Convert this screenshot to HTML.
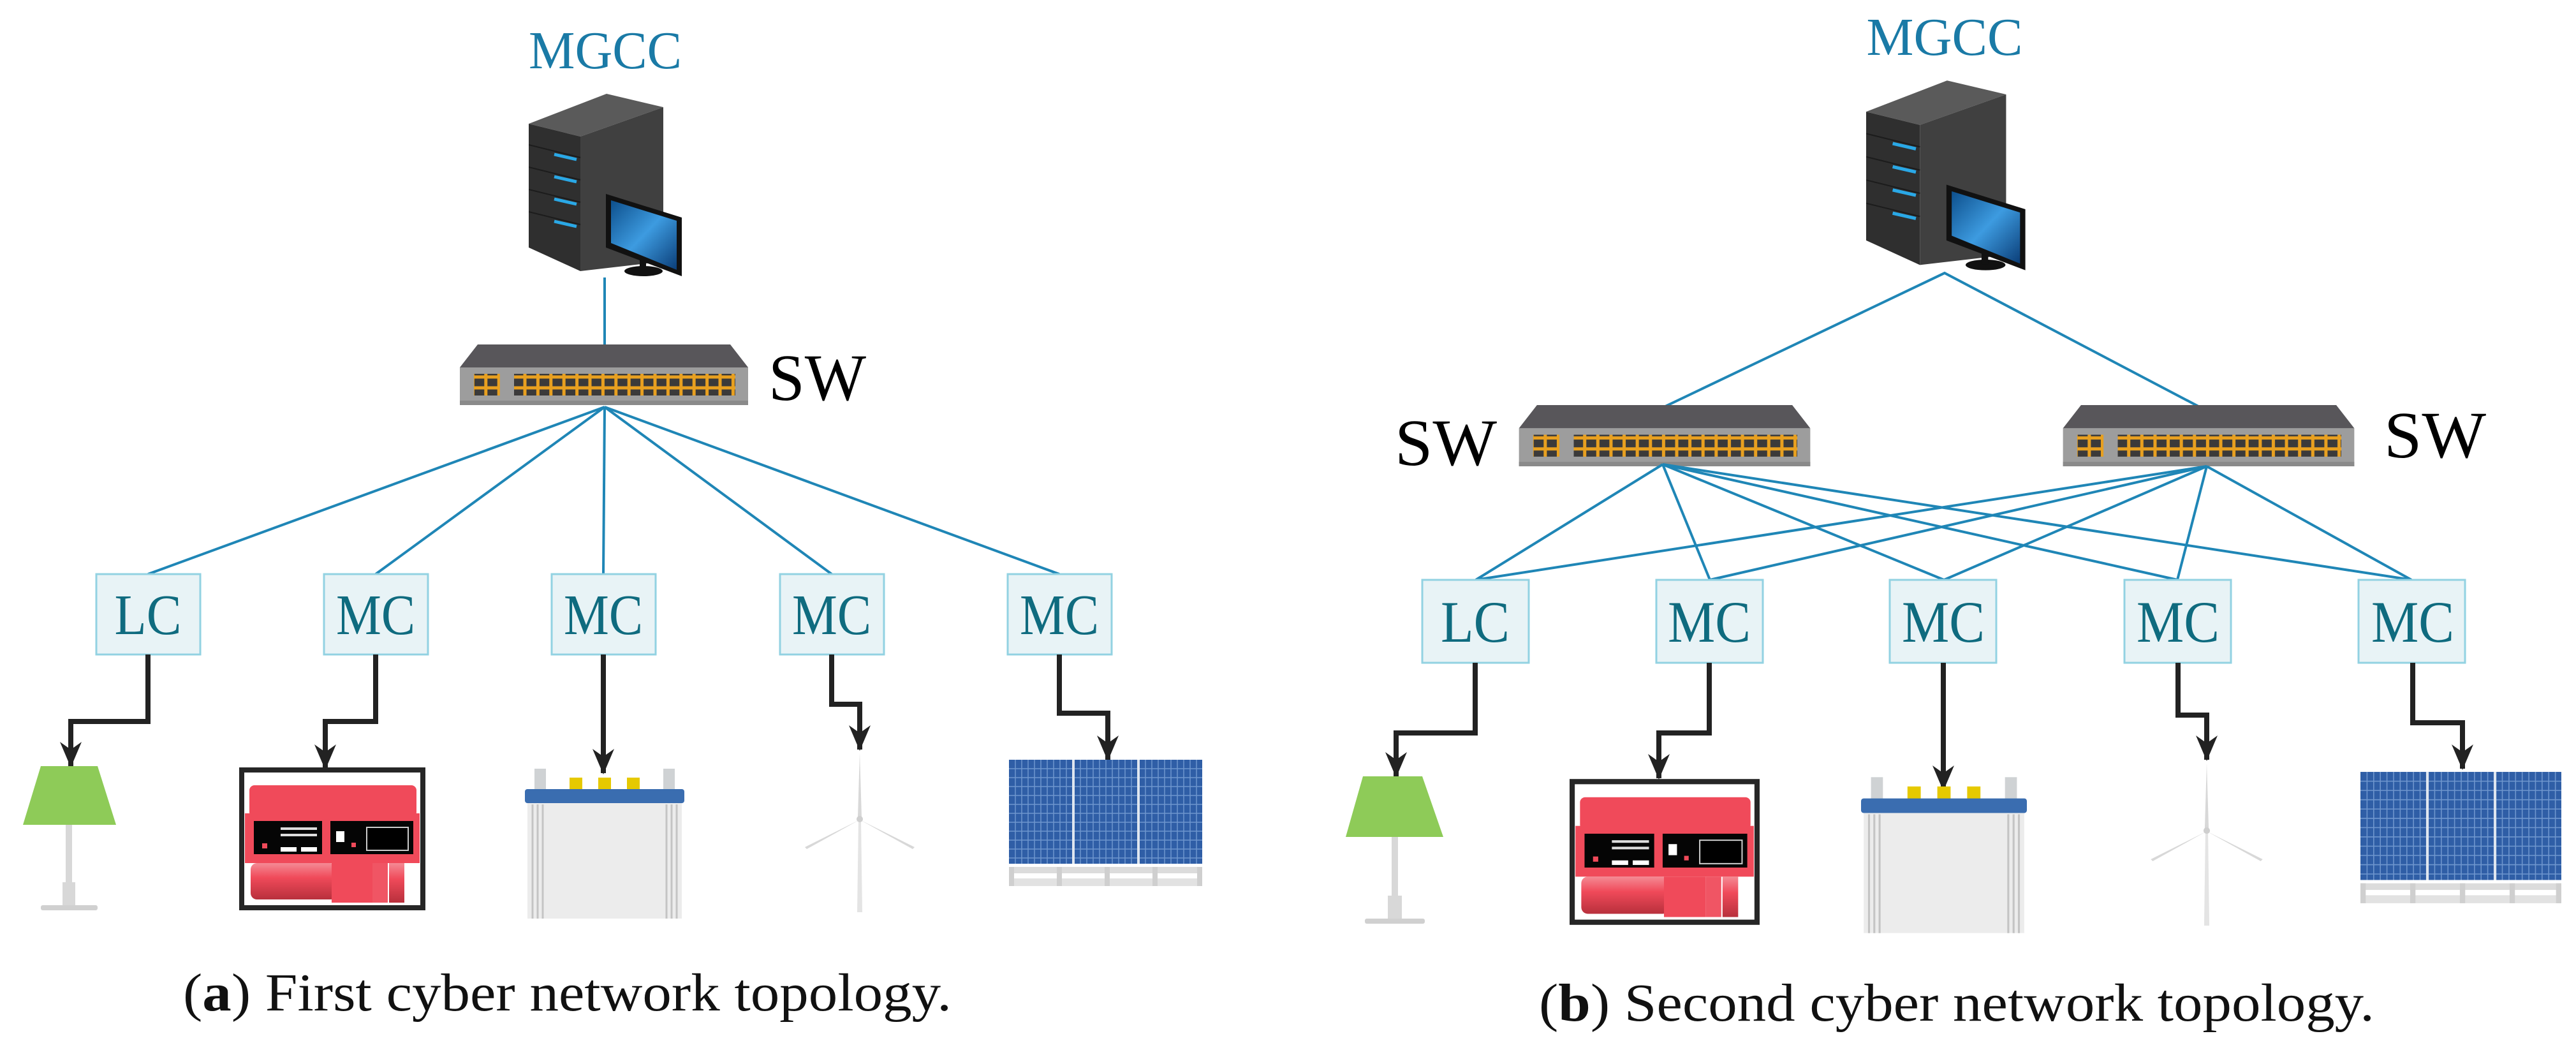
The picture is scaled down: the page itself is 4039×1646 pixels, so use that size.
<!DOCTYPE html>
<html><head><meta charset="utf-8"><style>html,body{margin:0;padding:0;background:#fff}svg{display:block}text{font-family:"Liberation Serif",serif}</style></head>
<body>
<svg width="4039" height="1646" viewBox="0 0 4039 1646" xmlns="http://www.w3.org/2000/svg">
<defs>
<marker id="ah" markerUnits="userSpaceOnUse" markerWidth="40" markerHeight="34" refX="38" refY="17" orient="auto" viewBox="0 0 40 34">
<path d="M0,0 L40,17 L0,34 L12,17 Z" fill="#222"/>
</marker>
<pattern id="ports" patternUnits="userSpaceOnUse" x="0" y="0" width="20.4" height="17">
<rect x="0" y="0" width="20.4" height="17" fill="#e8a020"/>
<rect x="2.5" y="2.5" width="15.4" height="12" fill="#3b3a3a"/>
</pattern>
<linearGradient id="cyl" x1="0" y1="0" x2="0" y2="1"><stop offset="0" stop-color="#f48a94"/><stop offset="0.4" stop-color="#f04a5a"/><stop offset="1" stop-color="#b8303c"/></linearGradient>
<linearGradient id="scr" x1="0" y1="0" x2="1" y2="1"><stop offset="0" stop-color="#0d4f8c"/><stop offset="0.5" stop-color="#3d9be0"/><stop offset="1" stop-color="#0b3e78"/></linearGradient>

<symbol id="server" viewBox="0 0 250 290">
<polygon points="0,47 122,0 211,21 81,67" fill="#5a5a5a"/>
<polygon points="0,47 81,67 81,278 0,241" fill="#2f2f2f"/>
<polygon points="81,67 211,21 211,263 81,278" fill="#404040"/>
<g stroke="#2aa8e6" stroke-width="5">
<line x1="40" y1="95" x2="75" y2="103"/><line x1="40" y1="130" x2="75" y2="138"/>
<line x1="40" y1="165" x2="75" y2="173"/><line x1="40" y1="200" x2="75" y2="208"/>
</g>
<g stroke="#1c1c1c" stroke-width="2">
<line x1="0" y1="80" x2="81" y2="100"/><line x1="0" y1="115" x2="81" y2="135"/><line x1="0" y1="150" x2="81" y2="170"/><line x1="0" y1="185" x2="81" y2="205"/>
</g>
<ellipse cx="180" cy="278" rx="30" ry="8" fill="#111"/>
<rect x="174" y="255" width="10" height="22" fill="#111"/>
<polygon points="121,157 240,194 240,286 121,241" fill="#111"/>
<polygon points="129,167 232,199 232,276 129,234" fill="url(#scr)"/>
</symbol>

<symbol id="switch" viewBox="0 0 452 95">
<polygon points="28,0 424,0 452,36 0,36" fill="#58565a"/>
<rect x="0" y="36" width="452" height="59" fill="#9d9d9d"/>
<rect x="0" y="88" width="452" height="7" fill="#8a8a8a"/>
<rect x="22" y="46" width="40.8" height="34" fill="url(#ports)"/>
<rect x="85" y="46" width="346.8" height="34" fill="url(#ports)"/>
</symbol>

<symbol id="gen" viewBox="0 0 292 224">
<rect x="4" y="4" width="284" height="216" fill="#fff" stroke="#262626" stroke-width="8"/>
<rect x="16" y="28" width="262" height="50" rx="8" fill="#f04a5a"/>
<rect x="9" y="72" width="274" height="78" fill="#f04a5a"/>
<rect x="23" y="84" width="107" height="52" fill="#050505"/>
<rect x="143" y="84" width="130" height="52" fill="#050505"/>
<rect x="36" y="119" width="8" height="8" fill="#f04a5a"/>
<rect x="65" y="125" width="25" height="7" fill="#fff"/><rect x="97" y="125" width="25" height="7" fill="#fff"/>
<rect x="65" y="94" width="57" height="4" fill="#ddd"/><rect x="65" y="104" width="57" height="4" fill="#ddd"/>
<rect x="152" y="100" width="13" height="17" fill="#fff"/>
<rect x="176" y="118" width="7" height="7" fill="#f04a5a"/>
<rect x="200" y="94" width="65" height="36" fill="#000" stroke="#ccc" stroke-width="2"/>
<rect x="18" y="150" width="135" height="57" rx="10" fill="url(#cyl)"/>
<rect x="145" y="150" width="64" height="62" fill="#f04a5a"/>
<rect x="209" y="150" width="24" height="62" fill="#f05564"/>
<rect x="235" y="150" width="24" height="62" fill="url(#cyl)"/>
</symbol>

<symbol id="batt" viewBox="0 0 250 235">
<rect x="15" y="0" width="18" height="34" fill="#cfd2d4"/><rect x="217" y="0" width="18" height="34" fill="#cfd2d4"/>
<rect x="70" y="14" width="20" height="20" fill="#e6c900"/><rect x="115" y="14" width="20" height="20" fill="#e6c900"/><rect x="160" y="14" width="20" height="20" fill="#e6c900"/>
<rect x="0" y="32" width="250" height="22" rx="4" fill="#3a6db0"/>
<rect x="4" y="54" width="242" height="181" fill="#ececec"/>
<g stroke="#c4c4c4" stroke-width="3">
<line x1="12" y1="56" x2="12" y2="235"/><line x1="20" y1="56" x2="20" y2="235"/><line x1="28" y1="56" x2="28" y2="235"/>
<line x1="222" y1="56" x2="222" y2="235"/><line x1="230" y1="56" x2="230" y2="235"/><line x1="238" y1="56" x2="238" y2="235"/>
</g>
</symbol>

<symbol id="solar" viewBox="0 0 303 200">
<rect x="0" y="0" width="303" height="163" fill="#2f5ea6"/>
<g stroke="#7fa5d8" stroke-width="1.5" opacity="0.8">
<path d="M0,14H303M0,28H303M0,42H303M0,56H303M0,70H303M0,84H303M0,98H303M0,112H303M0,126H303M0,140H303M0,154H303"/>
<path d="M10,0V163M20,0V163M30,0V163M40,0V163M50,0V163M60,0V163M70,0V163M80,0V163M90,0V163M112,0V163M122,0V163M132,0V163M142,0V163M152,0V163M162,0V163M172,0V163M182,0V163M192,0V163M214,0V163M224,0V163M234,0V163M244,0V163M254,0V163M264,0V163M274,0V163M284,0V163M294,0V163"/>
</g>
<rect x="99" y="0" width="4" height="163" fill="#dfe6ef"/><rect x="201" y="0" width="4" height="163" fill="#dfe6ef"/>
<rect x="0" y="168" width="303" height="10" fill="#dcdcdc"/>
<rect x="0" y="186" width="303" height="12" fill="#e2e2e2"/>
<g fill="#cfcfcf"><rect x="0" y="168" width="8" height="30"/><rect x="75" y="168" width="8" height="30"/><rect x="150" y="168" width="8" height="30"/><rect x="225" y="168" width="8" height="30"/><rect x="295" y="168" width="8" height="30"/></g>
</symbol>

<symbol id="turb" viewBox="0 0 172 250">
<polygon points="84,105 88,105 90,250 82,250" fill="#e4e4e4"/>
<polygon points="86,0 89,100 83,100" fill="#d8d8d8"/>
<polygon points="86,105 0,148 3,151" fill="#d8d8d8"/>
<polygon points="86,105 172,148 169,151" fill="#d8d8d8"/>
<circle cx="86" cy="104" r="5" fill="#cfcfcf"/>
</symbol>
</defs>

<!-- ===== PANEL A ===== -->
<text x="949" y="107" font-size="84" fill="#1a7aa6" text-anchor="middle" textLength="240" lengthAdjust="spacingAndGlyphs">MGCC</text>
<use href="#server" x="829" y="147" width="250" height="290"/>
<line x1="948" y1="435" x2="948" y2="540" stroke="#1f86b6" stroke-width="4"/>
<use href="#switch" x="721" y="540" width="452" height="95"/>
<text x="1205" y="627" font-size="104" fill="#000" textLength="153" lengthAdjust="spacingAndGlyphs">SW</text>

<g stroke="#1f86b6" stroke-width="4" fill="none">
<line x1="948" y1="638" x2="232" y2="900"/>
<line x1="948" y1="638" x2="589" y2="900"/>
<line x1="948" y1="638" x2="946" y2="900"/>
<line x1="948" y1="638" x2="1304" y2="900"/>
<line x1="948" y1="638" x2="1661" y2="900"/>
</g>
<g fill="#e8f3f6" stroke="#92d2e2" stroke-width="3">
<rect x="151" y="900" width="163" height="126"/>
<rect x="508" y="900" width="163" height="126"/>
<rect x="865" y="900" width="163" height="126"/>
<rect x="1223" y="900" width="163" height="126"/>
<rect x="1580" y="900" width="163" height="126"/>
</g>
<g font-size="90" fill="#0f6b7f" text-anchor="middle">
<text x="232" y="994" textLength="105" lengthAdjust="spacingAndGlyphs">LC</text>
<text x="589" y="994" textLength="124" lengthAdjust="spacingAndGlyphs">MC</text>
<text x="946" y="994" textLength="124" lengthAdjust="spacingAndGlyphs">MC</text>
<text x="1304" y="994" textLength="124" lengthAdjust="spacingAndGlyphs">MC</text>
<text x="1661" y="994" textLength="124" lengthAdjust="spacingAndGlyphs">MC</text>
</g>
<g stroke="#222" stroke-width="8" fill="none" marker-end="url(#ah)">
<polyline points="232,1026 232,1131 111,1131 111,1201"/>
<polyline points="589,1026 589,1131 510,1131 510,1205"/>
<polyline points="946,1026 946,1212"/>
<polyline points="1304,1026 1304,1104 1348,1104 1348,1175"/>
<polyline points="1661,1026 1661,1118 1737,1118 1737,1191"/>
</g>
<polygon points="64,1201 153,1201 182,1293 36,1293" fill="#8ecb58"/>
<rect x="103" y="1293" width="10" height="90" fill="#d8d8d8"/>
<rect x="98" y="1383" width="20" height="36" fill="#d8d8d8"/>
<rect x="64" y="1419" width="89" height="8" rx="3" fill="#d0d0d0"/>
<use href="#gen" x="375" y="1203" width="292" height="224"/>
<use href="#batt" x="823" y="1205" width="250" height="235"/>
<use href="#turb" x="1262" y="1180" width="172" height="250"/>
<use href="#solar" x="1582" y="1191" width="303" height="200"/>
<text x="287" y="1584" font-size="84" fill="#111" textLength="1205" lengthAdjust="spacingAndGlyphs">(<tspan font-weight="bold">a</tspan>) First cyber network topology.</text>

<!-- ===== PANEL B ===== -->
<text x="3049" y="86" font-size="84" fill="#1a7aa6" text-anchor="middle" textLength="245" lengthAdjust="spacingAndGlyphs">MGCC</text>
<use href="#server" x="2926" y="126" width="260" height="302"/>
<g stroke="#1f86b6" stroke-width="4" fill="none">
<polyline points="2611,637 3049,428 3447,637"/>
</g>
<use href="#switch" x="2378" y="635" width="464" height="96"/>
<use href="#switch" x="3231" y="635" width="464" height="96"/>
<text x="2187" y="729" font-size="104" fill="#000" textLength="160" lengthAdjust="spacingAndGlyphs">SW</text>
<text x="3738" y="717" font-size="104" fill="#000" textLength="160" lengthAdjust="spacingAndGlyphs">SW</text>
<g stroke="#1f86b6" stroke-width="4" fill="none">
<line x1="2607" y1="728" x2="2314" y2="909"/>
<line x1="2607" y1="728" x2="2681" y2="909"/>
<line x1="2607" y1="728" x2="3048" y2="909"/>
<line x1="2607" y1="728" x2="3414" y2="909"/>
<line x1="2607" y1="728" x2="3781" y2="909"/>
<line x1="3460" y1="731" x2="2314" y2="909"/>
<line x1="3460" y1="731" x2="2681" y2="909"/>
<line x1="3460" y1="731" x2="3048" y2="909"/>
<line x1="3460" y1="731" x2="3414" y2="909"/>
<line x1="3460" y1="731" x2="3781" y2="909"/>
</g>
<g fill="#e8f3f6" stroke="#92d2e2" stroke-width="3">
<rect x="2230" y="909" width="167" height="130"/>
<rect x="2597" y="909" width="167" height="130"/>
<rect x="2963" y="909" width="167" height="130"/>
<rect x="3331" y="909" width="167" height="130"/>
<rect x="3698" y="909" width="167" height="130"/>
</g>
<g font-size="92" fill="#0f6b7f" text-anchor="middle">
<text x="2313" y="1006" textLength="108" lengthAdjust="spacingAndGlyphs">LC</text>
<text x="2680" y="1006" textLength="130" lengthAdjust="spacingAndGlyphs">MC</text>
<text x="3047" y="1006" textLength="130" lengthAdjust="spacingAndGlyphs">MC</text>
<text x="3415" y="1006" textLength="130" lengthAdjust="spacingAndGlyphs">MC</text>
<text x="3783" y="1006" textLength="130" lengthAdjust="spacingAndGlyphs">MC</text>
</g>
<g stroke="#222" stroke-width="8" fill="none" marker-end="url(#ah)">
<polyline points="2313,1039 2313,1149 2189,1149 2189,1217"/>
<polyline points="2680,1039 2680,1149 2601,1149 2601,1220"/>
<polyline points="3047,1039 3047,1238"/>
<polyline points="3415,1039 3415,1121 3460,1121 3460,1191"/>
<polyline points="3783,1039 3783,1133 3861,1133 3861,1205"/>
</g>
<polygon points="2137,1217 2230,1217 2263,1312 2110,1312" fill="#8ecb58"/>
<rect x="2182" y="1312" width="10" height="92" fill="#d8d8d8"/>
<rect x="2176" y="1404" width="22" height="36" fill="#d8d8d8"/>
<rect x="2140" y="1440" width="94" height="8" rx="3" fill="#d0d0d0"/>
<use href="#gen" x="2461" y="1220" width="298" height="231"/>
<use href="#batt" x="2918" y="1217" width="260" height="247"/>
<use href="#turb" x="3372" y="1196" width="176" height="255"/>
<use href="#solar" x="3701" y="1209" width="315" height="210"/>
<text x="2413" y="1600" font-size="84" fill="#111" textLength="1310" lengthAdjust="spacingAndGlyphs">(<tspan font-weight="bold">b</tspan>) Second cyber network topology.</text>
</svg>
</body></html>
